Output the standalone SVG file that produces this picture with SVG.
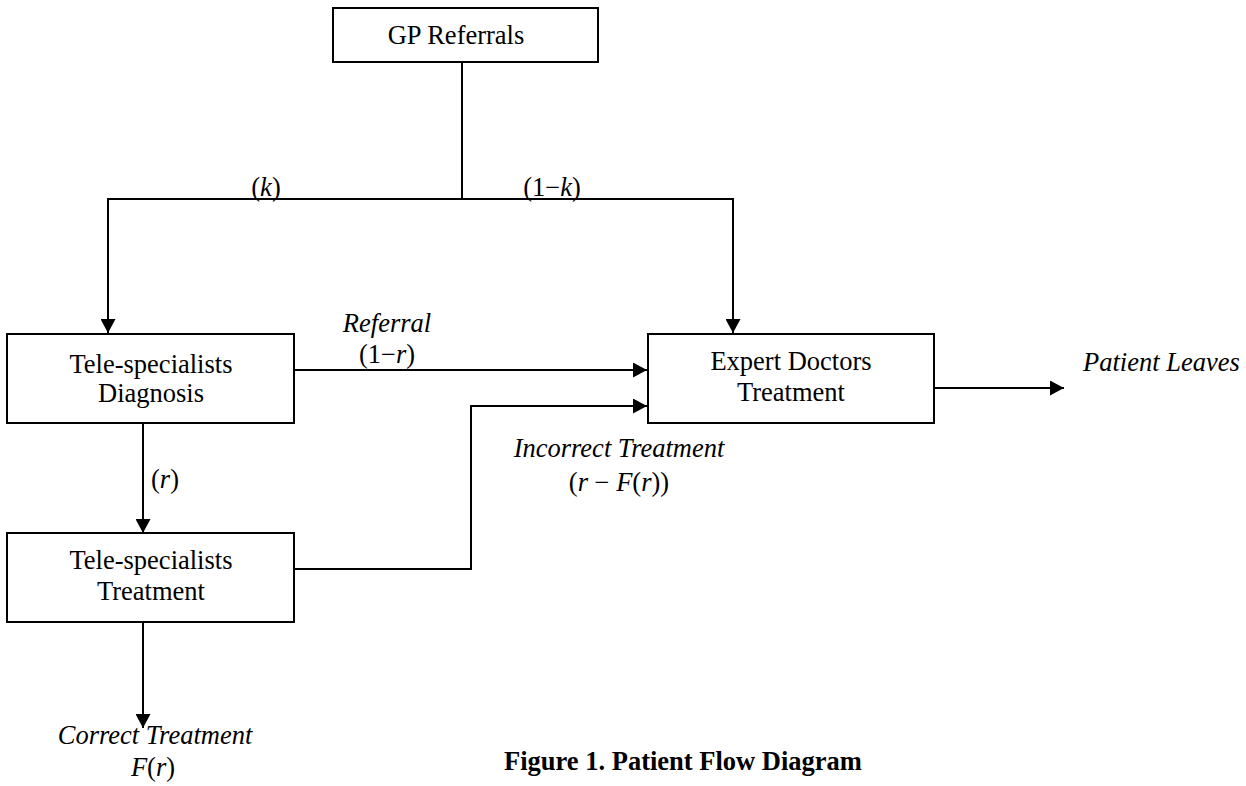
<svg xmlns="http://www.w3.org/2000/svg" width="1246" height="786" viewBox="0 0 1246 786">
<style>
  .box{fill:#fff;stroke:#000;stroke-width:2}
  .ln{fill:none;stroke:#000;stroke-width:2}
  .t{font-family:"Liberation Serif","Times New Roman",serif;font-size:26.5px;fill:#000}
  .it{font-style:italic}
  .b{font-weight:bold}
</style>
<defs>
  <marker id="arr" markerUnits="userSpaceOnUse" markerWidth="15" markerHeight="15" refX="14" refY="7.5" orient="auto">
    <path d="M0,0 L14,7.5 L0,15 Z" fill="#000"/>
  </marker>
</defs>
<rect width="1246" height="786" fill="#fff"/>
<g id="connectors">
  <path class="ln" d="M462,62 V199"/>
  <path class="ln" d="M462,199 H108 V333" marker-end="url(#arr)"/>
  <path class="ln" d="M462,199 H733 V333" marker-end="url(#arr)"/>
  <path class="ln" d="M294,370 H647" marker-end="url(#arr)"/>
  <path class="ln" d="M294,569 H471 V406 H647" marker-end="url(#arr)"/>
  <path class="ln" d="M143,423 V533" marker-end="url(#arr)"/>
  <path class="ln" d="M143,622 V728" marker-end="url(#arr)"/>
  <path class="ln" d="M934,388 H1064" marker-end="url(#arr)"/>
</g>
<g id="gp">
  <rect class="box" x="333" y="8" width="265" height="54"/>
  <text class="t" x="456" y="44" text-anchor="middle">GP Referrals</text>
</g>
<g id="diagnosis">
  <rect class="box" x="7" y="334" width="287" height="89"/>
  <text class="t" x="151" y="373" text-anchor="middle">Tele-specialists</text>
  <text class="t" x="151" y="402" text-anchor="middle">Diagnosis</text>
</g>
<g id="treatment">
  <rect class="box" x="7" y="533" width="287" height="89"/>
  <text class="t" x="151" y="569" text-anchor="middle">Tele-specialists</text>
  <text class="t" x="151" y="600" text-anchor="middle">Treatment</text>
</g>
<g id="expert">
  <rect class="box" x="648" y="334" width="286" height="89"/>
  <text class="t" x="791" y="370" text-anchor="middle">Expert Doctors</text>
  <text class="t" x="791" y="401" text-anchor="middle">Treatment</text>
</g>
<g id="labels">
  <text class="t" x="266" y="196" text-anchor="middle">(<tspan class="it">k</tspan>)</text>
  <text class="t" x="552" y="196" text-anchor="middle">(1−<tspan class="it">k</tspan>)</text>
  <text class="t it" x="387" y="332" text-anchor="middle">Referral</text>
  <text class="t" x="387" y="363" text-anchor="middle">(1−<tspan class="it">r</tspan>)</text>
  <text class="t" x="165" y="488" text-anchor="middle">(<tspan class="it">r</tspan>)</text>
  <text class="t it" x="619" y="457" text-anchor="middle">Incorrect Treatment</text>
  <text class="t" x="619" y="491" text-anchor="middle">(<tspan class="it">r</tspan> − <tspan class="it">F</tspan>(<tspan class="it">r</tspan>))</text>
  <text class="t it" x="1083" y="371">Patient Leaves</text>
  <text class="t it" x="155" y="744" text-anchor="middle">Correct Treatment</text>
  <text class="t" x="153" y="776" text-anchor="middle"><tspan class="it">F</tspan>(<tspan class="it">r</tspan>)</text>
  <text class="t b" x="504" y="770">Figure 1. Patient Flow Diagram</text>
</g>
</svg>
